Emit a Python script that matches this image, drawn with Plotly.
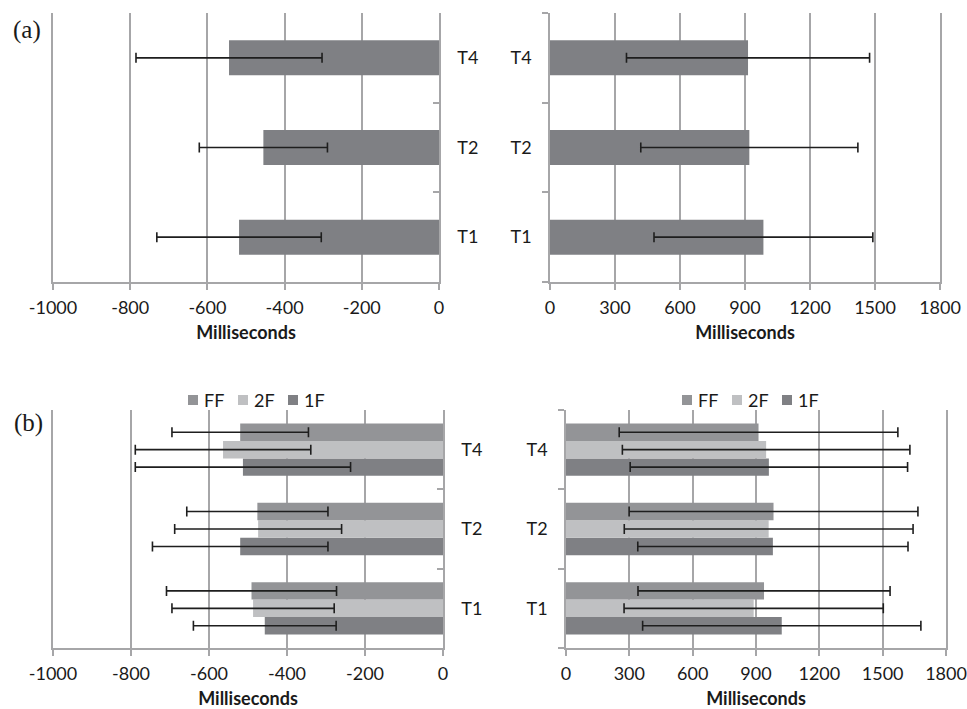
import plotly.graph_objects as go

# ---------------- data ----------------
categories = ["T1", "T2", "T4"]

# panel (a)
a_left_vals = [-518, -455, -544]
a_left_err = [213, 166, 241]
a_right_vals = [985, 920, 914]
a_right_err = [505, 501, 561]

# panel (b) left (negative)
b_left_FF = [-491, -476, -520]
b_left_FF_err = [218, 181, 175]
b_left_2F = [-487, -474, -564]
b_left_2F_err = [208, 214, 225]
b_left_1F = [-457, -520, -513]
b_left_1F_err = [183, 225, 276]

# panel (b) right (positive)
b_right_FF = [938, 983, 912]
b_right_FF_err = [597, 684, 660]
b_right_2F = [889, 960, 948]
b_right_2F_err = [614, 684, 681]
b_right_1F = [1022, 980, 961]
b_right_1F_err = [659, 640, 657]

series_names = ["FF", "2F", "1F"]
left_ticks = [-1000, -800, -600, -400, -200, 0]
right_ticks = [0, 300, 600, 900, 1200, 1500, 1800]

# ---------------- styles ----------------
C_A = "#7f8084"
COLORS = {"FF": "#939497", "2F": "#bfc0c2", "1F": "#7f8084"}
GRID = "#a6a6a8"
ERR = "#1e1e1e"
TXT = "#1a1a1a"
FONT = "Lato"

W, H = 967, 709


def err(arr):
    return dict(type="data", array=arr, visible=True, color=ERR, thickness=1.6, width=5)


fig = go.Figure()

# panel (a)
fig.add_trace(go.Bar(y=categories, x=a_left_vals, orientation="h", marker_color=C_A,
                     width=0.39, error_x=err(a_left_err), showlegend=False,
                     xaxis="x", yaxis="y"))
fig.add_trace(go.Bar(y=categories, x=a_right_vals, orientation="h", marker_color=C_A,
                     width=0.39, error_x=err(a_right_err), showlegend=False,
                     xaxis="x2", yaxis="y2"))

# panel (b) – add 1F first so that FF appears at the top of each group
b_left = {"FF": (b_left_FF, b_left_FF_err),
          "2F": (b_left_2F, b_left_2F_err),
          "1F": (b_left_1F, b_left_1F_err)}
b_right = {"FF": (b_right_FF, b_right_FF_err),
           "2F": (b_right_2F, b_right_2F_err),
           "1F": (b_right_1F, b_right_1F_err)}

for name in reversed(series_names):
    v, e = b_left[name]
    fig.add_trace(go.Bar(y=categories, x=v, orientation="h", name=name,
                         marker_color=COLORS[name], error_x=err(e),
                         xaxis="x3", yaxis="y3", showlegend=False))
for name in reversed(series_names):
    v, e = b_right[name]
    fig.add_trace(go.Bar(y=categories, x=v, orientation="h", name=name,
                         marker_color=COLORS[name], error_x=err(e),
                         xaxis="x4", yaxis="y4", showlegend=False))


def xa(domain, rng, ticks, anchor):
    return dict(domain=domain, range=rng, tickvals=ticks, ticktext=[str(t) for t in ticks],
                showgrid=True, gridcolor=GRID, gridwidth=1.5, zeroline=False,
                showline=True, linecolor=GRID, linewidth=1.5,
                ticks="outside", ticklen=6, tickcolor=GRID, tickwidth=1.5,
                ticklabelstandoff=3, automargin=False,
                tickfont=dict(family=FONT, size=18, color=TXT),
                title=dict(text="<b>Milliseconds</b>", standoff=9,
                           font=dict(family=FONT, size=18, color=TXT)),
                anchor=anchor, fixedrange=True)


def ya(domain, anchor, side):
    return dict(domain=domain, type="category", categoryorder="array",
                categoryarray=categories, range=[-0.5, 2.5], side=side,
                showline=True, mirror=True, linecolor=GRID, linewidth=1.5,
                ticks="inside" if side == "right" else "outside", tickson="boundaries",
                ticklen=6, tickcolor=GRID, tickwidth=1.5, ticklabelstandoff=13,
                showgrid=False, zeroline=False, automargin=False,
                tickfont=dict(family=FONT, size=18, color=TXT),
                anchor=anchor, fixedrange=True)


ya_dom = [1 - 282 / H, 1 - 13 / H]
yb_dom = [1 - 648 / H, 1 - 410 / H]

# manual legends for panel (b)
shapes = []
annotations = [
    dict(text="(a)", x=27 / W, y=1 - 30 / H, xref="paper", yref="paper", showarrow=False,
         xanchor="center", yanchor="middle",
         font=dict(family="Liberation Serif", size=25, color=TXT)),
    dict(text="(b)", x=28 / W, y=1 - 423 / H, xref="paper", yref="paper", showarrow=False,
         xanchor="center", yanchor="middle",
         font=dict(family="Liberation Serif", size=25, color=TXT)),
]
legend_starts = [188, 682]
legend_pitch = 50
legend_y = 400
for x0 in legend_starts:
    for i, name in enumerate(series_names):
        sx = x0 + i * legend_pitch
        shapes.append(dict(type="rect", xref="paper", yref="paper",
                           x0=sx / W, x1=(sx + 10) / W,
                           y0=1 - (legend_y + 5) / H, y1=1 - (legend_y - 5) / H,
                           fillcolor=COLORS[name], line=dict(width=0)))
        annotations.append(dict(text=name, x=(sx + 14) / W, y=1 - legend_y / H,
                                xref="paper", yref="paper", showarrow=False,
                                xanchor="left", yanchor="middle",
                                font=dict(family=FONT, size=18, color=TXT)))

fig.update_layout(
    template="none",
    width=W, height=H, margin=dict(l=0, r=0, t=0, b=0, autoexpand=False),
    paper_bgcolor="white", plot_bgcolor="white",
    barmode="group", bargap=0.34, bargroupgap=0, showlegend=False,
    xaxis=xa([53 / W, 439 / W], [-1000, 0], left_ticks, "y"),
    yaxis=ya(ya_dom, "x", "right"),
    xaxis2=xa([550 / W, 940 / W], [0, 1800], right_ticks, "y2"),
    yaxis2=ya(ya_dom, "x2", "left"),
    xaxis3=xa([53 / W, 443 / W], [-1000, 0], left_ticks, "y3"),
    yaxis3=ya(yb_dom, "x3", "right"),
    xaxis4=xa([566 / W, 946 / W], [0, 1800], right_ticks, "y4"),
    yaxis4=ya(yb_dom, "x4", "left"),
    shapes=shapes,
    annotations=annotations,
)

fig.write_html("out.html", config={"displayModeBar": False},
               post_script="document.body.style.margin='0';")
